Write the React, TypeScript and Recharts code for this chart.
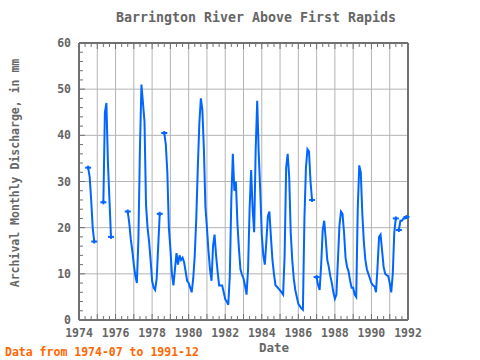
import { LineChart, Line, XAxis, YAxis, CartesianGrid } from "recharts";

// Monthly discharge (mm), Jul 1974 .. Dec 1991. null = no record for that month.
const startYear = 1974;
const startMonth = 7;

const yr1974 = [33, 31, 26, 20, 17, null]; // Jul-Dec
const yr1975 = [null, null, null, null, 25.5, 45, 47, 34, 26, 18, null, null];
const yr1976 = [null, null, null, null, null, null, null, null, 23.5, 21, 17.5, 15];
const yr1977 = [12, 9.5, 8, 17.5, 37, 51, 47, 43, 25, 20, 17, 13];
const yr1978 = [8.5, 7, 6.5, 9, 16, 23, null, null, 40.5, 38, 32, 20];
const yr1979 = [15.5, 10, 7.5, 11, 14.5, 12, 14, 13, 13.5, 12.5, 10.5, 8.5];
const yr1980 = [8, 7, 6, 9, 14, 22, 33, 42.5, 48, 45.5, 37, 24.5];
const yr1981 = [20, 15, 11, 8.5, 16, 18.5, 14, 10.5, 7.5, 7.5, 7.5, 6];
const yr1982 = [4.5, 4, 3.3, 9.5, 26, 36, 28, 30, 21, 15.5, 11, 9.8];
const yr1983 = [9, 7.5, 5.5, 11, 24, 32.5, 24, 19, 37, 47.5, 36, 28];
const yr1984 = [18.5, 14, 12, 17, 22.5, 23.5, 18, 13, 10, 7.5, 7.2, 6.8];
const yr1985 = [6.4, 6, 5.5, 14, 33, 36, 31, 19, 13, 9, 6.5, 5];
const yr1986 = [3.5, 3, 2.5, 2.2, 22, 33, 37, 36.5, 30, 26, null, null];
const yr1987 = [9.3, 7.5, 6.5, 12, 19.5, 21.5, 17.5, 13, 11.5, 9.5, 8, 6];
const yr1988 = [4.6, 5.5, 13, 20.5, 23.5, 23, 19, 13.5, 11.5, 10.5, 8.5, 7];
const yr1989 = [7, 5.5, 5, 24, 33.5, 32, 23, 17, 13, 11, 10, 9];
const yr1990 = [8, 7.5, 7.3, 6, 11.5, 18, 18.5, 15, 11.5, 10, 9.7, 9.5];
const yr1991 = [8, 6, 10, 19, 22, null, 19.5, 21.5, 21.5, 22, 22, 22.3];

const discharge: (number | null)[] = [
  ...yr1974, ...yr1975, ...yr1976, ...yr1977, ...yr1978, ...yr1979,
  ...yr1980, ...yr1981, ...yr1982, ...yr1983, ...yr1984, ...yr1985,
  ...yr1986, ...yr1987, ...yr1988, ...yr1989, ...yr1990, ...yr1991,
];

// axis ticks
const xLabelYears = [1974, 1976, 1978, 1980, 1982, 1984, 1986, 1988, 1990, 1992];
const gridYears = [1975, 1976, 1977, 1978, 1979, 1980, 1981, 1982, 1983, 1984, 1985, 1986, 1987, 1988, 1989, 1990, 1991];
const xMinorTicks = Array.from({ length: 55 }, (_, k) => 1974 + k / 3); // every 4 months
const yLabels = [0, 10, 20, 30, 40, 50, 60];
const yMinorTicks = Array.from({ length: 31 }, (_, k) => k * 2);

const data = discharge.map((v, i) => ({
  t: startYear + (startMonth - 1 + i) / 12,
  v,
}));

const FRAME = "#707070";
const TEXT = "#666666";
const LINE = "#0066ff";
const GRID = "#b4b4b4";
const FONT = "'DejaVu Sans Mono', monospace";

const isWhole = (v: number) => Math.abs(v - Math.round(v)) < 1e-6;

const BottomTick = (props: any) => {
  const { x, y, payload } = props;
  const v = payload.value;
  const yr = isWhole(v);
  const label = yr && xLabelYears.includes(Math.round(v));
  return (
    <g>
      <line x1={x} y1={y} x2={x} y2={y - (yr ? 6 : 4)} stroke={FRAME} strokeWidth={1} />
      {label && (
        <text x={x} y={y + 17} textAnchor="middle" fill={TEXT} fontFamily={FONT} fontWeight="bold" fontSize={11.5}>
          {Math.round(v)}
        </text>
      )}
    </g>
  );
};

const TopTick = (props: any) => {
  const { x, y, payload } = props;
  const yr = isWhole(payload.value);
  return <line x1={x} y1={y} x2={x} y2={y + (yr ? 6 : 4)} stroke={FRAME} strokeWidth={1} />;
};

const LeftTick = (props: any) => {
  const { x, y, payload } = props;
  const v = payload.value;
  const major = v % 10 === 0;
  return (
    <g>
      <line x1={x} y1={y} x2={x + (major ? 6 : 4)} y2={y} stroke={FRAME} strokeWidth={1} />
      {yLabels.includes(v) && (
        <text x={x - 8} y={y + 4} textAnchor="end" fill={TEXT} fontFamily={FONT} fontWeight="bold" fontSize={11.5}>
          {v}
        </text>
      )}
    </g>
  );
};

const RightTick = (props: any) => {
  const { x, y, payload } = props;
  const major = payload.value % 10 === 0;
  return <line x1={x} y1={y} x2={x - (major ? 6 : 4)} y2={y} stroke={FRAME} strokeWidth={1} />;
};

// marker only where a run of records starts or stops
const EndMark = (props: any) => {
  const { cx, cy, index } = props;
  const key = `m${index}`;
  if (cx == null || cy == null || data[index].v == null) return <g key={key} />;
  const prev = index > 0 ? data[index - 1].v : null;
  const next = index < data.length - 1 ? data[index + 1].v : null;
  if (prev != null && next != null) return <g key={key} />;
  return (
    <g key={key}>
      <line x1={cx - 3} x2={cx + 3} y1={cy} y2={cy} stroke={LINE} strokeWidth={2} />
      <line x1={cx} x2={cx} y1={cy - 2} y2={cy + 2} stroke={LINE} strokeWidth={2} />
    </g>
  );
};

export default function App() {
  return (
    <div style={{ position: "absolute", left: 0, top: 0, width: 480, height: 360, background: "#fff" }}>
      <LineChart width={480} height={360} data={data} margin={{ top: 13, right: 42, bottom: 10, left: 19 }}>
        <CartesianGrid
          xAxisId="bottom"
          yAxisId="left"
          stroke={GRID}
          strokeWidth={1}
          verticalValues={gridYears}
          horizontalValues={[10, 20, 30, 40, 50]}
        />
        <XAxis
          xAxisId="bottom"
          type="number"
          dataKey="t"
          domain={[1974, 1992]}
          ticks={xMinorTicks}
          interval={0}
          height={30}
          tickSize={0}
          tickMargin={0}
          tickLine={false}
          tick={BottomTick}
          axisLine={{ stroke: FRAME, strokeWidth: 2 }}
        />
        <XAxis
          xAxisId="top"
          orientation="top"
          type="number"
          dataKey="t"
          domain={[1974, 1992]}
          ticks={xMinorTicks}
          interval={0}
          height={30}
          tickSize={0}
          tickMargin={0}
          tickLine={false}
          tick={TopTick}
          axisLine={{ stroke: FRAME, strokeWidth: 2 }}
        />
        <YAxis
          yAxisId="left"
          type="number"
          domain={[0, 60]}
          ticks={yMinorTicks}
          interval={0}
          width={60}
          tickSize={0}
          tickMargin={0}
          tickLine={false}
          tick={LeftTick}
          axisLine={{ stroke: FRAME, strokeWidth: 2 }}
        />
        <YAxis
          yAxisId="right"
          orientation="right"
          type="number"
          domain={[0, 60]}
          ticks={yMinorTicks}
          interval={0}
          width={30}
          tickSize={0}
          tickMargin={0}
          tickLine={false}
          tick={RightTick}
          axisLine={{ stroke: FRAME, strokeWidth: 2 }}
        />
        <Line
          xAxisId="bottom"
          yAxisId="left"
          type="linear"
          dataKey="v"
          stroke={LINE}
          strokeWidth={2}
          dot={EndMark}
          activeDot={false}
          connectNulls={false}
          isAnimationActive={false}
        />
      </LineChart>
      <svg width={480} height={360} style={{ position: "absolute", left: 0, top: 0, pointerEvents: "none" }}>
        <text x={256} y={22} textAnchor="middle" fill={TEXT} fontFamily={FONT} fontWeight="bold" fontSize={13.3}>
          Barrington River Above First Rapids
        </text>
        <text
          x={19}
          y={173}
          transform="rotate(-90 19 173)"
          textAnchor="middle"
          fill={TEXT}
          fontFamily={FONT}
          fontWeight="bold"
          fontSize={11.5}
        >
          Archival Monthly Discharge, in mm
        </text>
        <text x={274} y={352} textAnchor="middle" fill={TEXT} fontFamily={FONT} fontWeight="bold" fontSize={12.5}>
          Date
        </text>
        <text x={5} y={356} fill="#ff6600" fontFamily={FONT} fontWeight="bold" fontSize={11.5}>
          Data from 1974-07 to 1991-12
        </text>
      </svg>
    </div>
  );
}
